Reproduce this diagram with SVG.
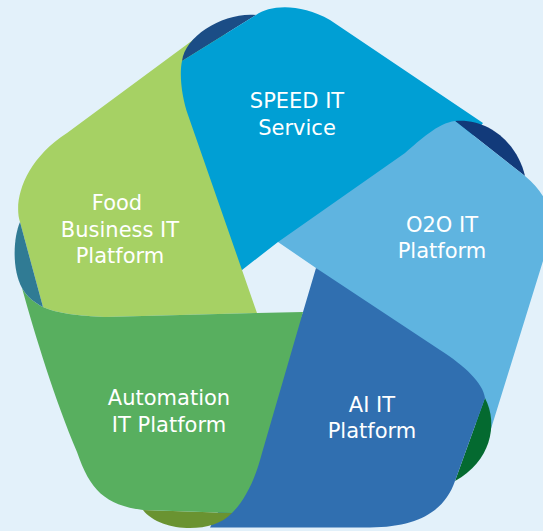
<svg xmlns="http://www.w3.org/2000/svg" width="543" height="531" viewBox="0 0 543 531">
<style>
.t{font-family:"DejaVu Sans","Liberation Sans",sans-serif;font-size:21px;fill:#ffffff;text-anchor:middle}
</style>
<rect width="543" height="531" fill="#E3F1FA"/>
<g id="food">
<path fill="#A6D164" d="M257,313 L105,317 C80,316 55,313 43,307 L20,222 C13,200 25,160 67,133 L197,37 L215,25 L260,60 L250,250 L242,270 Z"/>
<text class="t" x="117" y="210">Food</text>
<text class="t" x="120" y="237">Business IT</text>
<text class="t" x="120" y="263">Platform</text>
</g>
<g id="speed">
<path fill="#1B4D86" d="M182,61 C185,35 225,12 256,15 Z"/>
<path fill="#009FD4" d="M242,270 L188,115 C182,98 179,75 182,61 L256,15 C270,5 300,3 330,20 L483,123 L470,140 L285,242 L278,242 Z"/>
<text class="t" x="297" y="108">SPEED IT</text>
<text class="t" x="297" y="135">Service</text>
</g>
<g id="o2o">
<path fill="#123A7A" d="M455,121 C490,118 518,145 525,176 Z"/>
<path fill="#5FB4E0" d="M278,242 L405,153 C420,140 438,123 455,121 L525,176 Q560,205 548,245 L490,432 L470,420 L400,340 L316,268 Z"/>
<text class="t" x="442" y="232">O2O IT</text>
<text class="t" x="442" y="258">Platform</text>
</g>
<g id="ai">
<path fill="#046A30" d="M485,398 C499,425 490,462 455,481 Z"/>
<path fill="#306FB0" d="M316,268 L440,350 C465,366 483,383 485,398 L455,481 C445,510 420,527 370,527.5 L210,527.5 L240,470 L303,312 Z"/>
<text class="t" x="372" y="412">AI IT</text>
<text class="t" x="372" y="438">Platform</text>
</g>
<g id="automation">
<path fill="#6A9331" d="M143,510 C160,532 212,535 232,513 Z"/>
<path fill="#58AF5F" d="M303,312 L257,313 L105,317 C80,316 55,313 43,307 C35,303 27,297 22,288 C35,335 55,400 77,452 C90,490 105,505 143,510 L232,513 C245,500 255,480 262,453 Z"/>
<text class="t" x="169" y="405">Automation</text>
<text class="t" x="169" y="432">IT Platform</text>
</g>
<g id="food-fold">
<path fill="#307B94" d="M20,222 C13,238 12,270 22,288 C27,297 35,303 43,307 Z"/>
</g>
</svg>
